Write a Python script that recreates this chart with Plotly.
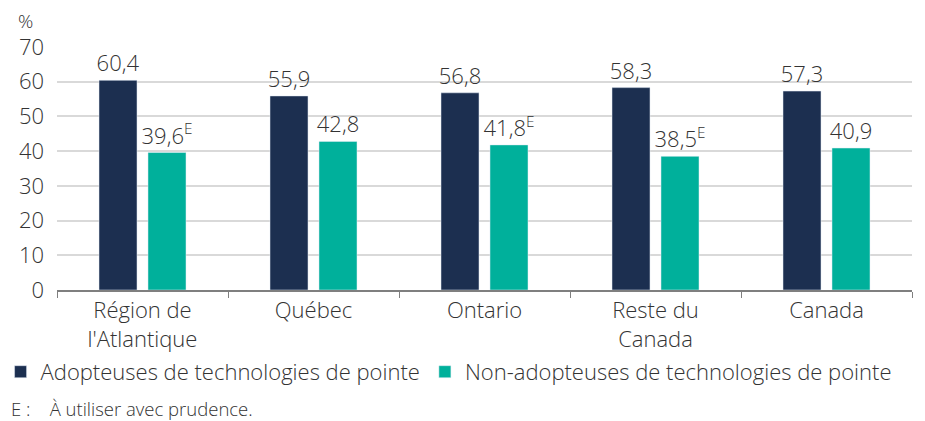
import plotly.graph_objects as go

categories = ["Région de<br>l'Atlantique", "Québec", "Ontario", "Reste du<br>Canada", "Canada"]
adopters = [60.4, 55.9, 56.8, 58.3, 57.3]
non_adopters = [39.6, 42.8, 41.8, 38.5, 40.9]
adopters_flag = ["", "", "", "", ""]
non_adopters_flag = ["E", "", "E", "E", ""]
series_names = ["Adopteuses de technologies de pointe", "Non-adopteuses de technologies de pointe"]
y_ticks = [0, 10, 20, 30, 40, 50, 60, 70]

FONT = "Open Sans"
TXT = "#333333"
FS = 22

def labels(vals, flags):
    out = []
    for v, f in zip(vals, flags):
        s = f"{v:.1f}".replace(".", ",")
        if f:
            s += f"<sup style='font-size:70%'>{f}</sup>"
        out.append(s)
    return out

fig = go.Figure()
fig.add_trace(go.Bar(
    x=categories, y=adopters, name=series_names[0],
    marker=dict(color="#1c2f50"),
    text=labels(adopters, adopters_flag), textposition="outside", constraintext="none",
    textfont=dict(family=FONT, size=FS, color=TXT), cliponaxis=False,
))
fig.add_trace(go.Bar(
    x=categories, y=non_adopters, name=series_names[1],
    marker=dict(color="#00b09b"),
    text=labels(non_adopters, non_adopters_flag), textposition="outside", constraintext="none",
    textfont=dict(family=FONT, size=FS, color=TXT), cliponaxis=False,
))

fig.update_layout(
    width=925, height=421,
    margin=dict(l=49, r=21, t=39, b=139, autoexpand=False),
    paper_bgcolor="white", plot_bgcolor="white",
    barmode="group", bargap=0.427, bargroupgap=0.224,
    font=dict(family=FONT, size=FS, color=TXT, weight=300),
    showlegend=True,
    legend=dict(orientation="h", x=-0.066, xanchor="left", y=-0.337, yanchor="middle",
                font=dict(family=FONT, size=FS, color=TXT), traceorder="normal",
                itemwidth=30, bgcolor="rgba(0,0,0,0)"),
    xaxis=dict(
        showline=True, linecolor="#7f7f7f", linewidth=1.5, automargin=False,
        ticks="outside", tickson="boundaries", ticklen=6, tickcolor="#7f7f7f",
        tickfont=dict(family=FONT, size=FS, color=TXT),
        showgrid=False,
    ),
    yaxis=dict(
        range=[0, 70], tickvals=y_ticks, ticktext=[str(v) for v in y_ticks],
        showgrid=True, gridcolor="#d9d9d9", gridwidth=1.5, automargin=False,
        zeroline=False, showline=False, ticks="", ticklabelstandoff=12,
        tickfont=dict(family=FONT, size=FS, color=TXT),
    ),
    annotations=[
        dict(text="%", xref="paper", yref="paper", x=-0.037, y=1.105, xanchor="center", yanchor="middle",
             showarrow=False, font=dict(family=FONT, size=19, color=TXT)),
        dict(text="E :&nbsp;&nbsp;&nbsp; À utiliser avec prudence.", xref="paper", yref="paper",
             x=-0.056, y=-0.486, xanchor="left", yanchor="middle",
             showarrow=False, font=dict(family=FONT, size=18.5, color=TXT)),
    ],
)

fig.write_html("out.html")
